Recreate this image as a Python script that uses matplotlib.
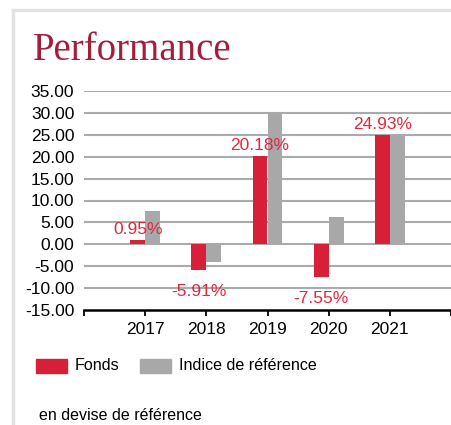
import matplotlib
matplotlib.use("Agg")
import matplotlib.pyplot as plt
import matplotlib.patches as pat
from matplotlib.lines import Line2D

plt.rcParams['font.family'] = ['Liberation Sans', 'DejaVu Sans']

years = ["2017", "2018", "2019", "2020", "2021"]
fonds = [0.95, -5.91, 20.18, -7.55, 24.93]
indice = [7.5, -4.0, 29.9, 6.3, 24.8]
yticks = [-15, -10, -5, 0, 5, 10, 15, 20, 25, 30, 35]

red = "#d81f38"
grey = "#a8a8a8"
W, H = 452, 425

fig = plt.figure(figsize=(W / 100, H / 100), dpi=100)

# cadre gris clair
fig.add_artist(Line2D([13 / W, 13 / W], [0, 1 - 10 / H], color="#e2e2e2", lw=2.5, transform=fig.transFigure))
fig.add_artist(Line2D([13 / W, 1], [1 - 10 / H, 1 - 10 / H], color="#e2e2e2", lw=2.5, transform=fig.transFigure))

fig.text(33 / W, 1 - 60 / H, "Performance", family="Liberation Serif", fontsize=28,
         color="#a31d3c", ha="left", va="baseline")

ax = fig.add_axes([84 / W, 1 - 310 / H, (451 - 84) / W, (310 - 91) / H])
x = list(range(1, len(years) + 1))
bw = 0.245
ax.bar([i - bw / 2 for i in x], fonds, width=bw, color=red, zorder=3)
ax.bar([i + bw / 2 for i in x], indice, width=bw, color=grey, zorder=3)

for i, v in zip(x, fonds):
    if v >= 0:
        ax.annotate(f"{v:.2f}%", (i - bw / 2, v), xytext=(0, 2), textcoords="offset points",
                    ha="center", va="bottom", color="#e0283f", fontsize=12.5, zorder=4)
    else:
        ax.annotate(f"{v:.2f}%", (i - bw / 2, v), xytext=(0, -10), textcoords="offset points",
                    ha="center", va="top", color="#e0283f", fontsize=12.5, zorder=4)

ax.set_xlim(0, 6)
ax.set_ylim(-15, 35)
ax.set_yticks(yticks)
ax.set_yticklabels([f"{t:.2f}" for t in yticks], fontsize=12.5)
ax.set_xticks(range(0, 7))
ax.set_xticklabels([""] + years + [""], fontsize=12.5)
ax.tick_params(axis="y", length=0, pad=7)
ax.tick_params(axis="x", length=4, width=1.3, color="black", pad=5)
for y in yticks[1:]:
    ax.axhline(y, color="#aaaaaa", lw=1.5, zorder=1)
for s in ["top", "right", "left"]:
    ax.spines[s].set_visible(False)
ax.spines["bottom"].set_linewidth(1.8)
ax.spines["bottom"].set_color("black")

# légende
fig.add_artist(pat.Rectangle((36 / W, 1 - 373 / H), 31 / W, 14 / H, color=red, transform=fig.transFigure))
fig.text(75 / W, 1 - 366 / H, "Fonds", fontsize=11.6, va="center", ha="left")
fig.add_artist(pat.Rectangle((140 / W, 1 - 373 / H), 31 / W, 14 / H, color=grey, transform=fig.transFigure))
fig.text(179 / W, 1 - 366 / H, "Indice de référence", fontsize=11.6, va="center", ha="left")

fig.text(39 / W, 1 - 415 / H, "en devise de référence", fontsize=11.5, va="center", ha="left")

fig.savefig("out.png", dpi=100)
